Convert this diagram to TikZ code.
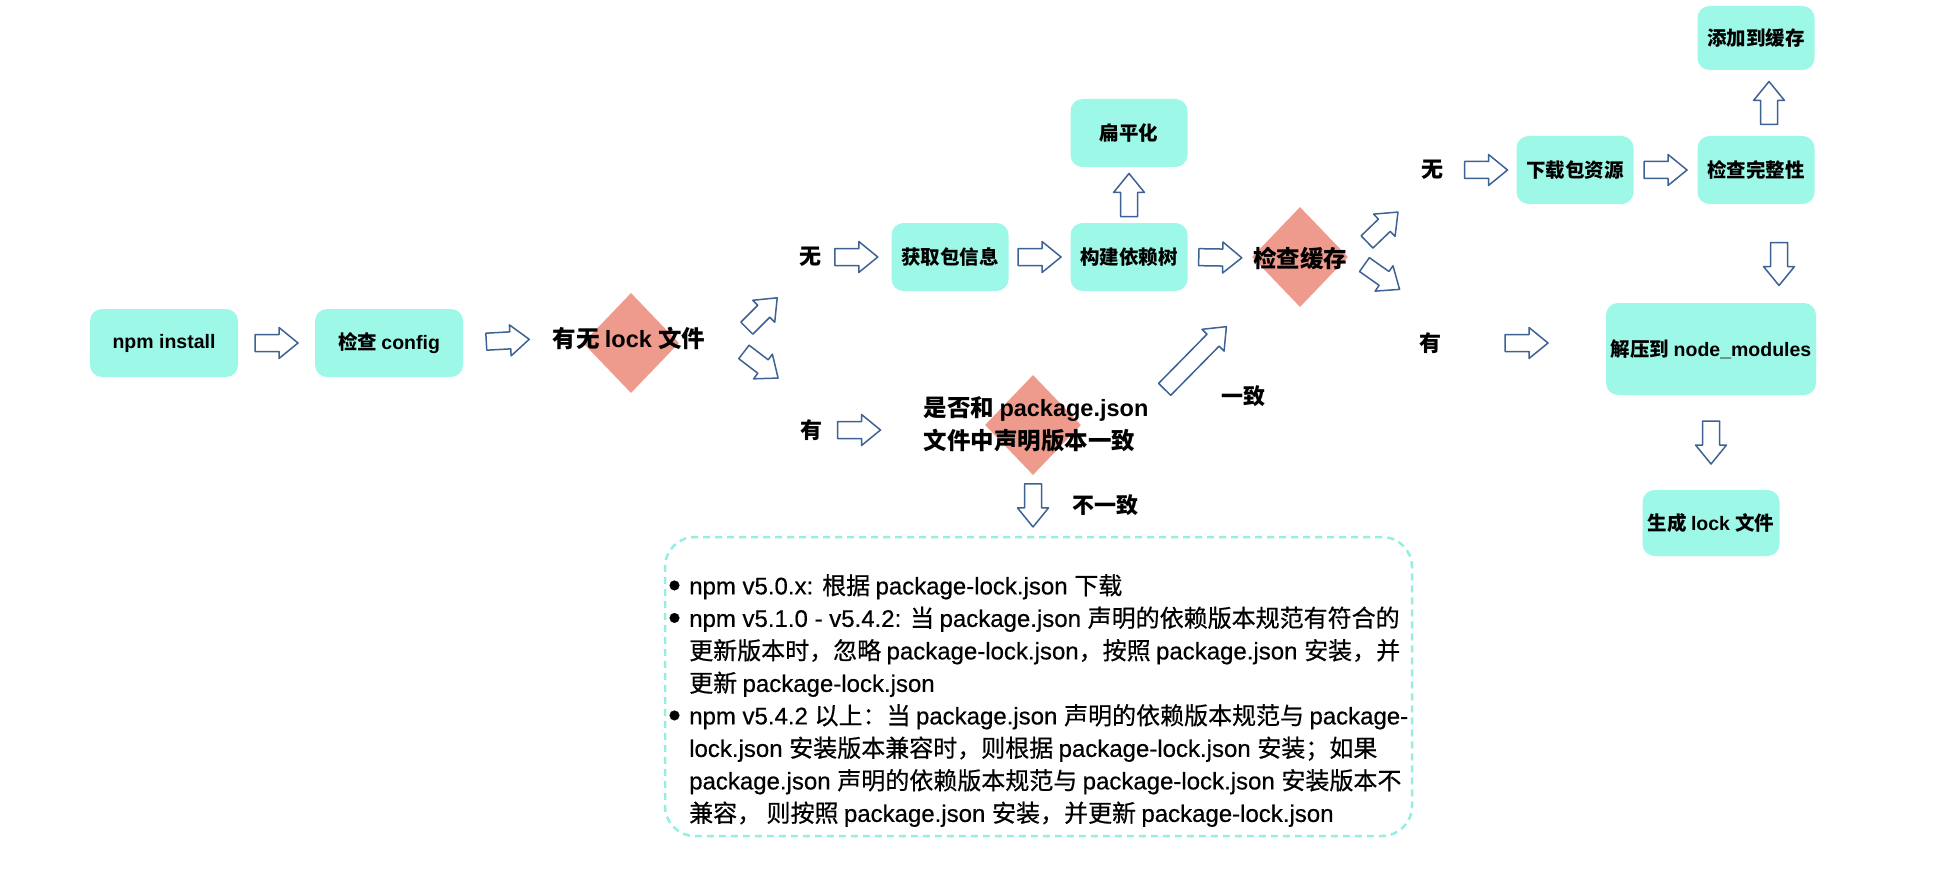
\documentclass[tikz,border=0pt]{standalone}
\usepackage{fontspec}
\usepackage{xcolor,graphicx}
\usetikzlibrary{calc}
\usetikzlibrary{shapes.geometric}
\setmainfont{Liberation Sans}
\newfontfamily\cjkfont{Noto Sans CJK SC}
\newfontfamily\cjknote{Noto Sans CJK SC}[FakeBold=0.5]
\newfontfamily\latnote{Liberation Sans}[FakeBold=0.5]

% troca de fonte automatica para os caracteres chineses
\XeTeXinterchartokenstate=1
\newXeTeXintercharclass\cjkclass
\newcount\cjkcode
\newcommand\cjkrange[2]{\cjkcode=#1 \loop\XeTeXcharclass\cjkcode=\cjkclass \ifnum\cjkcode<#2 \advance\cjkcode by 1 \repeat}
\cjkrange{"3000}{"303F}
\cjkrange{"4E00}{"9FFF}
\cjkrange{"FF00}{"FFEF}
\XeTeXinterchartoks 0 \cjkclass = {\cjkfont}
\XeTeXinterchartoks 4095 \cjkclass = {\cjkfont}
\XeTeXinterchartoks \cjkclass 0 = {\rmfamily}
\XeTeXinterchartoks 4095 0 = {\rmfamily}

\definecolor{boxaqua}{HTML}{9DF8E8}
\definecolor{diasalmon}{HTML}{EE9B8D}
\definecolor{arrowblue}{HTML}{3E6293}
\definecolor{dashaqua}{HTML}{94EFE3}

% ponto da seta vazada: #1 ao longo, #2 na perpendicular
\newcommand\bpt[2]{($(\tikztostart)!.5!(\tikztotarget)!#1!(\tikztotarget)!#2!90:(\tikztotarget)$)}
\newcommand\itm{\makebox[21pt][l]{\raisebox{-3pt}{\scalebox{1.5}{\textbullet}}}}
\newcommand\cont{\hspace*{21pt}}

\tikzset{
  flowbox/.style={rectangle, rounded corners=12pt, fill=boxaqua, inner sep=0pt,
    font=\fontsize{19.5}{23}\selectfont\bfseries},
  decision/.style={diamond, fill=diasalmon, inner sep=0pt, minimum width=96pt, minimum height=100pt},
  qtext/.style={inner sep=0pt, align=left, font=\fontsize{23.5}{33}\selectfont\bfseries},
  lbl/.style={inner sep=0pt, font=\fontsize{22}{26}\selectfont\bfseries},
  notebox/.style={draw=dashaqua, line width=2.5pt, dash pattern=on 7pt off 5pt, rounded corners=30pt},
  notetext/.style={inner sep=0pt, align=left,
    font=\fontsize{24}{32.5}\selectfont\let\cjkfont\cjknote\let\rmfamily\latnote\latnote},
  barrow/.style={draw=arrowblue, fill=white, line width=1.5pt, line join=round,
    to path={\bpt{-#1}{8.5pt} -- \bpt{#1-19pt}{8.5pt} -- \bpt{#1-19pt}{15.5pt}
      -- ($(\tikztostart)!.5!(\tikztotarget)!#1!(\tikztotarget)$)
      -- \bpt{#1-19pt}{-15.5pt} -- \bpt{#1-19pt}{-8.5pt} -- \bpt{-#1}{-8.5pt} -- cycle}},
  barrow/.default=21.5pt
}

\begin{document}
\begin{tikzpicture}[x=1pt, y=-1pt]
  \useasboundingbox (0,0) rectangle (1937,869);

  % Inicio
  \node[flowbox, minimum width=148pt, minimum height=68pt] (npm) at (164,343) {npm install};
  \node[flowbox, minimum width=148pt, minimum height=68pt] (cfg) at (389,343) {检查 config};

  % Decisao: lock
  \node[decision] (lockd) at (631,343) {};
  \node[qtext] (lockq) at (629,338) {有无 lock 文件};
  \node[lbl] (lockno) at (810,257) {无};
  \node[lbl] (lockyes) at (811,430) {有};

  % Ramo sem lock
  \node[flowbox, minimum width=117pt, minimum height=68pt] (info) at (950,257) {获取包信息};
  \node[flowbox, minimum width=117pt, minimum height=68pt] (tree) at (1129,257) {构建依赖树};
  \node[flowbox, minimum width=117pt, minimum height=68pt] (flat) at (1129,133) {扁平化};
  \node[decision] (cached) at (1300,257) {};
  \node[qtext] (cacheq) at (1300,258) {检查缓存};

  % Ramo com lock
  \node[decision] (verd) at (1033,425) {};
  \node[qtext] (verq) at (1036,424) {是否和 package.json\\文件中声明版本一致};
  \node[lbl] (same) at (1243,396) {一致};
  \node[lbl] (diff) at (1105,505) {不一致};

  % Cache
  \node[lbl] (cacheno) at (1432,170) {无};
  \node[lbl] (cacheyes) at (1430,343) {有};
  \node[flowbox, minimum width=117pt, minimum height=68pt] (dl) at (1575,170) {下载包资源};
  \node[flowbox, minimum width=117pt, minimum height=68pt] (chk) at (1756,170) {检查完整性};
  \node[flowbox, minimum width=117pt, minimum height=64pt] (add) at (1756,38) {添加到缓存};
  \node[flowbox, minimum width=210pt, minimum height=92pt] (unz) at (1711,349) {解压到 node\_modules};
  \node[flowbox, minimum width=137pt, minimum height=66pt] (gen) at (1711,523) {生成 lock 文件};

  % Nota
  \node[notebox, minimum width=747pt, minimum height=299pt] (note) at (1038.5,686.5) {};
  \node[notetext, anchor=north west] (notetxt) at (668,574) {%
    \itm npm v5.0.x: 根据 package-lock.json 下载\\
    \itm npm v5.1.0 - v5.4.2: 当 package.json 声明的依赖版本规范有符合的\\
    \cont 更新版本时，忽略 package-lock.json，按照 package.json 安装，并\\
    \cont 更新 package-lock.json\\
    \itm npm v5.4.2 以上：当 package.json 声明的依赖版本规范与 package-\\
    \cont lock.json 安装版本兼容时，则根据 package-lock.json 安装；如果\\
    \cont package.json 声明的依赖版本规范与 package-lock.json 安装版本不\\
    \cont 兼容， 则按照 package.json 安装，并更新 package-lock.json};

  % Pontas livres das setas
  \coordinate (lu1) at (747,328);   \coordinate (lu2) at (777,298);
  \coordinate (ld1) at (744,352);   \coordinate (ld2) at (778,378);
  \coordinate (ly1) at (838,430);   \coordinate (ly2) at (880,430);
  \coordinate (cu1) at (1368,241);  \coordinate (cu2) at (1397,213);
  \coordinate (cd1) at (1365,265);  \coordinate (cd2) at (1399,289);
  \coordinate (cn1) at (1465,170);  \coordinate (cn2) at (1507,170);
  \coordinate (cz1) at (1779,243);  \coordinate (cz2) at (1779,285);
  \coordinate (cy1) at (1505,343);  \coordinate (cy2) at (1548,343);
  \coordinate (sm1) at (1164,390);  \coordinate (sm2) at (1227,326);

  % Setas
  \draw[barrow] (npm.east) to (cfg.west);
  \draw[barrow] (cfg.east) to (lockq.west);
  \draw[barrow] (lu1) to (lu2);
  \draw[barrow] (ld1) to (ld2);
  \draw[barrow] (lockno.east) to (info.west);
  \draw[barrow] (ly1) to (ly2);
  \draw[barrow] (info.east) to (tree.west);
  \draw[barrow] (tree.north) to (flat.south);
  \draw[barrow] (tree.east) to (cacheq.west);
  \draw[barrow] (cu1) to (cu2);
  \draw[barrow] (cd1) to (cd2);
  \draw[barrow] (cn1) to (cn2);
  \draw[barrow] (dl.east) to (chk.west);
  \draw[barrow] ([xshift=13pt]chk.north) to ([xshift=13pt]add.south);
  \draw[barrow] (cz1) to (cz2);
  \draw[barrow] (cy1) to (cy2);
  \draw[barrow] (unz.south) to (gen.north);
  \draw[barrow=44pt] (sm1) to (sm2);
  \draw[barrow] (verd.south) to (verd.south |- note.north);
\end{tikzpicture}
\end{document}
